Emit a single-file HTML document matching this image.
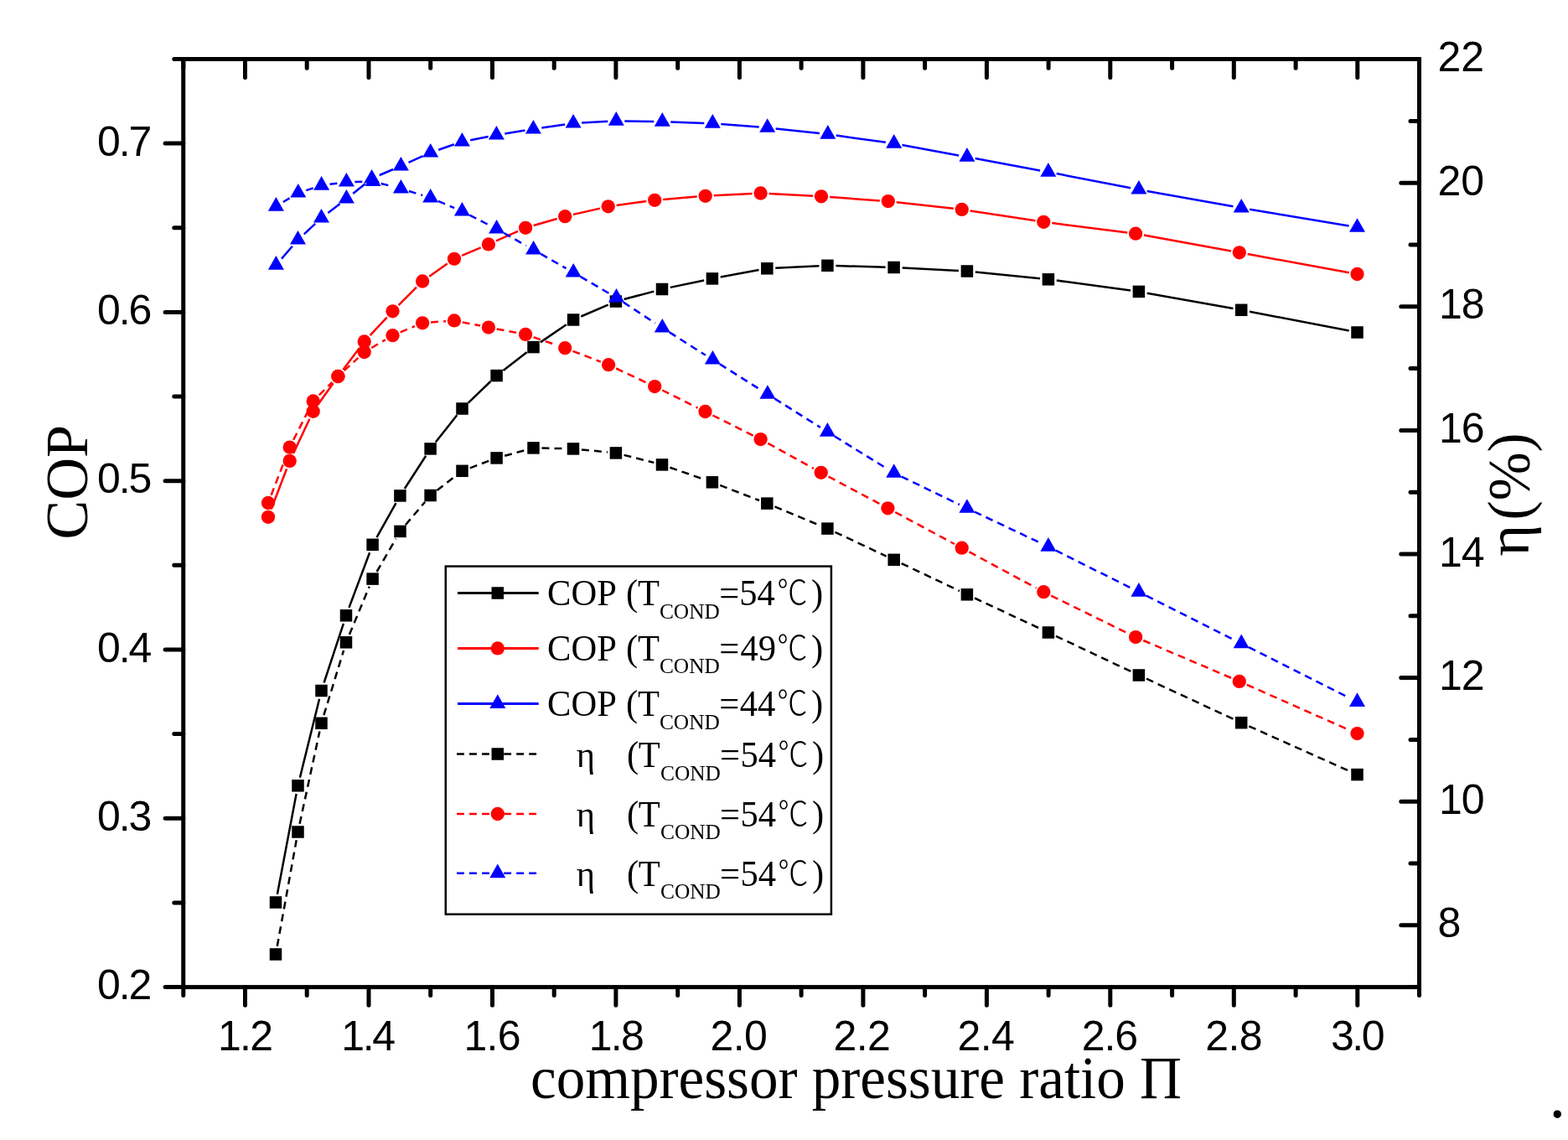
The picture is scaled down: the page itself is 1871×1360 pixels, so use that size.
<!DOCTYPE html><html><head><meta charset="utf-8">
<style>html,body{margin:0;padding:0;background:#fff;overflow:hidden}svg{display:block}.ax{font-family:"Liberation Sans",sans-serif;font-size:50px;fill:#000}.sf{font-family:"Liberation Serif",serif;fill:#000}.cj{font-family:"Liberation Sans","Noto Sans CJK SC",sans-serif;font-weight:300;fill:#000}</style></head><body>
<svg width="1871" height="1360" viewBox="0 0 1871 1360">
<rect x="0" y="0" width="1871" height="1360" fill="#fff"/>
<path d="M330.9,1066.7L353.6,947.1M357.9,927.6L381.1,833.7M386.6,814.5L409.9,743.8M416.5,724.9L441.1,659.2M449.5,641.1L472.5,600.1M482.8,583.0L508.2,543.8M519.8,527.6L545.3,495.3M558.7,480.6L585.4,455.0M600.5,442.0L628.6,420.2M644.8,408.4L675.8,387.2M693.3,377.5L725.7,363.6M744.6,357.0L780.3,347.6M799.8,342.9L840.1,334.5M859.7,330.6L905.5,322.1M925.3,319.8L977.4,317.3M997.4,317.1L1056.6,318.7M1076.6,319.5L1143.9,323.0M1163.8,324.5L1241.0,332.3M1260.8,334.6L1349.0,346.6M1368.7,349.7L1471.4,368.0M1491.0,371.7L1609.7,394.6" fill="none" stroke="#000" stroke-width="2.5"/>
<path d="M330.8,1128.7L353.7,1002.3M357.6,982.7L381.4,872.6M386.4,853.2L410.1,775.9M416.9,757.1L440.7,699.8M449.6,682.0L472.5,642.5M483.9,626.2L507.2,598.7M521.5,584.9L543.6,567.9M560.9,558.3L583.2,549.9M602.2,543.8L626.9,537.0M646.5,534.6L674.0,535.2M694.0,536.4L724.9,539.4M744.6,542.9L780.3,551.9M799.4,557.7L840.5,572.0M859.2,578.9L906.0,597.0M924.5,604.4L978.2,626.8M996.5,634.8L1057.6,663.6M1075.7,672.1L1144.9,705.0M1163.0,713.5L1241.8,750.3M1259.9,758.8L1349.9,801.2M1368.0,809.7L1472.1,858.0M1490.3,866.3L1610.4,920.0" fill="none" stroke="#000" stroke-width="2.5" stroke-dasharray="8.9,6.1"/>
<path d="M323.6,607.5L342.1,559.2M350.0,540.9L369.4,499.8M379.5,482.6L397.6,457.2M409.4,441.0L428.7,415.4M441.5,400.1L461.7,378.6M475.6,364.2L497.0,342.6M512.3,329.7L533.8,314.6M551.2,304.9L573.7,295.3M592.0,287.3L618.0,275.9M636.7,269.0L664.6,261.0M683.9,255.9L716.0,248.6M735.6,245.0L771.3,240.1M791.2,238.0L831.7,234.6M851.7,233.3L897.6,231.0M917.6,231.0L970.0,233.8M990.0,235.0L1049.8,239.4M1069.7,241.2L1137.8,248.8M1157.6,251.4L1235.4,263.3M1255.2,266.1L1345.2,277.4M1364.9,280.5L1469.0,299.5M1488.6,303.1L1609.7,325.2" fill="none" stroke="#f00" stroke-width="2.5"/>
<path d="M323.6,590.7L342.1,542.9M350.2,524.7L369.2,487.3M380.8,471.4L396.3,456.0M410.7,442.2L427.4,426.9M443.3,415.0L459.9,405.3M477.7,396.3L494.9,389.2M514.1,384.5L532.0,383.2M551.8,384.4L573.1,388.6M592.7,392.4L617.3,397.1M636.6,402.2L664.7,411.9M683.5,418.8L716.8,431.6M735.2,439.5L772.1,456.8M790.2,465.5L832.5,486.6M850.4,495.5L898.7,519.6M916.4,528.9L970.9,559.0M988.5,568.5L1050.6,601.6M1068.2,611.0L1138.9,649.0M1156.5,658.4L1236.5,701.5M1254.3,710.6L1346.1,755.7M1364.3,764.0L1469.6,809.0M1487.9,816.9L1610.4,871.1" fill="none" stroke="#f00" stroke-width="2.5" stroke-dasharray="8.9,6.1"/>
<path d="M336.0,308.6L348.9,293.7M362.8,279.3L376.2,266.9M391.4,254.0L405.5,243.2M421.2,230.9L435.8,219.2M452.8,209.0L469.2,202.0M487.5,193.9L504.6,186.1M523.2,178.8L541.9,172.3M561.2,167.2L582.6,162.9M602.3,159.4L626.5,155.6M646.3,152.6L674.2,148.5M694.1,146.5L725.3,144.8M745.3,144.4L780.3,145.0M800.3,145.5L840.3,146.9M860.3,148.0L905.7,151.5M925.6,153.4L977.9,159.1M997.7,161.6L1056.8,169.8M1076.5,173.0L1144.1,185.4M1163.7,189.0L1241.1,203.4M1260.7,207.1L1349.1,224.2M1368.7,227.9L1471.4,246.2M1491.1,249.7L1609.6,269.6" fill="none" stroke="#00f" stroke-width="2.5"/>
<path d="M337.9,241.0L347.3,235.3M365.3,227.1L374.1,224.2M393.5,219.8L403.5,218.5M423.4,216.9L435.0,216.7M454.7,219.0L468.7,222.5M487.9,228.0L504.2,233.0M522.9,239.9L542.2,248.2M560.3,256.6L583.7,268.6M601.3,278.0L627.9,293.1M645.3,302.9L675.5,320.2M692.8,330.1L726.9,350.1M743.9,360.6L781.9,385.6M798.8,396.4L841.9,423.8M858.9,434.4L907.4,465.0M924.4,475.6L978.9,509.9M995.9,520.5L1058.2,559.0M1075.7,568.6L1144.9,602.0M1162.9,610.6L1241.9,647.9M1259.8,656.7L1350.0,701.7M1367.8,710.7L1472.3,763.2M1490.1,772.2L1610.6,832.9" fill="none" stroke="#00f" stroke-width="2.5" stroke-dasharray="8.9,6.1"/>
<g><rect x="321.75" y="1069.25" width="14.5" height="14.5" fill="#000"/><rect x="348.25" y="930.05" width="14.5" height="14.5" fill="#000"/><rect x="376.25" y="816.75" width="14.5" height="14.5" fill="#000"/><rect x="405.75" y="727.05" width="14.5" height="14.5" fill="#000"/><rect x="437.35" y="642.55" width="14.5" height="14.5" fill="#000"/><rect x="470.15" y="584.15" width="14.5" height="14.5" fill="#000"/><rect x="506.35" y="528.15" width="14.5" height="14.5" fill="#000"/><rect x="544.25" y="480.25" width="14.5" height="14.5" fill="#000"/><rect x="585.35" y="440.85" width="14.5" height="14.5" fill="#000"/><rect x="629.25" y="406.85" width="14.5" height="14.5" fill="#000"/><rect x="676.85" y="374.25" width="14.5" height="14.5" fill="#000"/><rect x="727.65" y="352.35" width="14.5" height="14.5" fill="#000"/><rect x="782.75" y="337.75" width="14.5" height="14.5" fill="#000"/><rect x="842.65" y="325.15" width="14.5" height="14.5" fill="#000"/><rect x="908.05" y="313.05" width="14.5" height="14.5" fill="#000"/><rect x="980.15" y="309.55" width="14.5" height="14.5" fill="#000"/><rect x="1059.35" y="311.75" width="14.5" height="14.5" fill="#000"/><rect x="1146.65" y="316.25" width="14.5" height="14.5" fill="#000"/><rect x="1243.65" y="326.05" width="14.5" height="14.5" fill="#000"/><rect x="1351.65" y="340.65" width="14.5" height="14.5" fill="#000"/><rect x="1473.95" y="362.55" width="14.5" height="14.5" fill="#000"/><rect x="1612.25" y="389.25" width="14.5" height="14.5" fill="#000"/></g>
<g><rect x="321.75" y="1131.25" width="14.5" height="14.5" fill="#000"/><rect x="348.25" y="985.25" width="14.5" height="14.5" fill="#000"/><rect x="376.25" y="855.55" width="14.5" height="14.5" fill="#000"/><rect x="405.75" y="759.05" width="14.5" height="14.5" fill="#000"/><rect x="437.35" y="683.35" width="14.5" height="14.5" fill="#000"/><rect x="470.25" y="626.65" width="14.5" height="14.5" fill="#000"/><rect x="506.35" y="583.75" width="14.5" height="14.5" fill="#000"/><rect x="544.25" y="554.55" width="14.5" height="14.5" fill="#000"/><rect x="585.35" y="539.15" width="14.5" height="14.5" fill="#000"/><rect x="629.25" y="527.15" width="14.5" height="14.5" fill="#000"/><rect x="676.75" y="528.15" width="14.5" height="14.5" fill="#000"/><rect x="727.65" y="533.15" width="14.5" height="14.5" fill="#000"/><rect x="782.75" y="547.15" width="14.5" height="14.5" fill="#000"/><rect x="842.65" y="568.05" width="14.5" height="14.5" fill="#000"/><rect x="908.05" y="593.35" width="14.5" height="14.5" fill="#000"/><rect x="980.15" y="623.35" width="14.5" height="14.5" fill="#000"/><rect x="1059.45" y="660.55" width="14.5" height="14.5" fill="#000"/><rect x="1146.65" y="702.05" width="14.5" height="14.5" fill="#000"/><rect x="1243.65" y="747.25" width="14.5" height="14.5" fill="#000"/><rect x="1351.65" y="798.25" width="14.5" height="14.5" fill="#000"/><rect x="1473.95" y="854.95" width="14.5" height="14.5" fill="#000"/><rect x="1612.25" y="916.85" width="14.5" height="14.5" fill="#000"/></g>
<g><circle cx="320.0" cy="616.8" r="8.15" fill="#f00"/><circle cx="345.7" cy="549.9" r="8.15" fill="#f00"/><circle cx="373.7" cy="490.8" r="8.15" fill="#f00"/><circle cx="403.4" cy="449.0" r="8.15" fill="#f00"/><circle cx="434.7" cy="407.4" r="8.15" fill="#f00"/><circle cx="468.5" cy="371.3" r="8.15" fill="#f00"/><circle cx="504.1" cy="335.5" r="8.15" fill="#f00"/><circle cx="542.0" cy="308.8" r="8.15" fill="#f00"/><circle cx="582.9" cy="291.4" r="8.15" fill="#f00"/><circle cx="627.1" cy="271.8" r="8.15" fill="#f00"/><circle cx="674.2" cy="258.2" r="8.15" fill="#f00"/><circle cx="725.7" cy="246.3" r="8.15" fill="#f00"/><circle cx="781.2" cy="238.8" r="8.15" fill="#f00"/><circle cx="841.7" cy="233.8" r="8.15" fill="#f00"/><circle cx="907.6" cy="230.5" r="8.15" fill="#f00"/><circle cx="980.0" cy="234.3" r="8.15" fill="#f00"/><circle cx="1059.8" cy="240.1" r="8.15" fill="#f00"/><circle cx="1147.7" cy="249.9" r="8.15" fill="#f00"/><circle cx="1245.3" cy="264.8" r="8.15" fill="#f00"/><circle cx="1355.1" cy="278.7" r="8.15" fill="#f00"/><circle cx="1478.8" cy="301.3" r="8.15" fill="#f00"/><circle cx="1619.5" cy="327.0" r="8.15" fill="#f00"/></g>
<g><circle cx="320.0" cy="600.0" r="8.15" fill="#f00"/><circle cx="345.7" cy="533.6" r="8.15" fill="#f00"/><circle cx="373.7" cy="478.4" r="8.15" fill="#f00"/><circle cx="403.4" cy="449.0" r="8.15" fill="#f00"/><circle cx="434.7" cy="420.1" r="8.15" fill="#f00"/><circle cx="468.5" cy="400.2" r="8.15" fill="#f00"/><circle cx="504.1" cy="385.3" r="8.15" fill="#f00"/><circle cx="542.0" cy="382.4" r="8.15" fill="#f00"/><circle cx="582.9" cy="390.6" r="8.15" fill="#f00"/><circle cx="627.1" cy="398.9" r="8.15" fill="#f00"/><circle cx="674.2" cy="415.2" r="8.15" fill="#f00"/><circle cx="726.1" cy="435.2" r="8.15" fill="#f00"/><circle cx="781.2" cy="461.1" r="8.15" fill="#f00"/><circle cx="841.5" cy="491.0" r="8.15" fill="#f00"/><circle cx="907.6" cy="524.1" r="8.15" fill="#f00"/><circle cx="979.7" cy="563.8" r="8.15" fill="#f00"/><circle cx="1059.4" cy="606.3" r="8.15" fill="#f00"/><circle cx="1147.7" cy="653.7" r="8.15" fill="#f00"/><circle cx="1245.3" cy="706.2" r="8.15" fill="#f00"/><circle cx="1355.1" cy="760.1" r="8.15" fill="#f00"/><circle cx="1478.8" cy="812.9" r="8.15" fill="#f00"/><circle cx="1619.5" cy="875.1" r="8.15" fill="#f00"/></g>
<g><path d="M319.9,321.7L329.4,305.1L338.9,321.7Z" fill="#00f"/><path d="M346.0,291.6L355.5,275.0L365.0,291.6Z" fill="#00f"/><path d="M374.0,265.6L383.5,249.0L393.0,265.6Z" fill="#00f"/><path d="M403.9,242.6L413.4,226.0L422.9,242.6Z" fill="#00f"/><path d="M434.1,218.5L443.6,201.9L453.1,218.5Z" fill="#00f"/><path d="M468.9,203.5L478.4,186.9L487.9,203.5Z" fill="#00f"/><path d="M504.2,187.5L513.7,170.9L523.2,187.5Z" fill="#00f"/><path d="M541.9,174.6L551.4,158.0L560.9,174.6Z" fill="#00f"/><path d="M582.9,166.5L592.4,149.9L601.9,166.5Z" fill="#00f"/><path d="M626.9,159.5L636.4,142.9L645.9,159.5Z" fill="#00f"/><path d="M674.6,152.6L684.1,136.0L693.6,152.6Z" fill="#00f"/><path d="M725.8,149.7L735.3,133.1L744.8,149.7Z" fill="#00f"/><path d="M780.8,150.7L790.3,134.1L799.8,150.7Z" fill="#00f"/><path d="M840.8,152.7L850.3,136.1L859.8,152.7Z" fill="#00f"/><path d="M906.2,157.8L915.7,141.2L925.2,157.8Z" fill="#00f"/><path d="M978.3,165.7L987.8,149.1L997.3,165.7Z" fill="#00f"/><path d="M1057.2,176.7L1066.7,160.1L1076.2,176.7Z" fill="#00f"/><path d="M1144.4,192.7L1153.9,176.1L1163.4,192.7Z" fill="#00f"/><path d="M1241.4,210.7L1250.9,194.1L1260.4,210.7Z" fill="#00f"/><path d="M1349.4,231.6L1358.9,215.0L1368.4,231.6Z" fill="#00f"/><path d="M1471.7,253.5L1481.2,236.9L1490.7,253.5Z" fill="#00f"/><path d="M1610.0,276.8L1619.5,260.2L1629.0,276.8Z" fill="#00f"/></g>
<g><path d="M319.9,251.7L329.4,235.1L338.9,251.7Z" fill="#00f"/><path d="M346.3,235.6L355.8,219.0L365.3,235.6Z" fill="#00f"/><path d="M374.1,226.7L383.6,210.1L393.1,226.7Z" fill="#00f"/><path d="M403.9,222.6L413.4,206.0L422.9,222.6Z" fill="#00f"/><path d="M435.5,222.0L445.0,205.4L454.5,222.0Z" fill="#00f"/><path d="M468.9,230.5L478.4,213.9L487.9,230.5Z" fill="#00f"/><path d="M504.2,241.5L513.7,224.9L523.2,241.5Z" fill="#00f"/><path d="M541.9,257.6L551.4,241.0L560.9,257.6Z" fill="#00f"/><path d="M583.1,278.6L592.6,262.0L602.1,278.6Z" fill="#00f"/><path d="M627.1,303.5L636.6,286.9L646.1,303.5Z" fill="#00f"/><path d="M674.7,330.6L684.2,314.0L693.7,330.6Z" fill="#00f"/><path d="M726.0,360.6L735.5,344.0L745.0,360.6Z" fill="#00f"/><path d="M780.8,396.6L790.3,380.0L799.8,396.6Z" fill="#00f"/><path d="M840.9,434.6L850.4,418.0L859.9,434.6Z" fill="#00f"/><path d="M906.4,475.8L915.9,459.2L925.4,475.8Z" fill="#00f"/><path d="M977.9,520.7L987.4,504.1L996.9,520.7Z" fill="#00f"/><path d="M1057.2,569.8L1066.7,553.2L1076.2,569.8Z" fill="#00f"/><path d="M1144.4,611.8L1153.9,595.2L1163.4,611.8Z" fill="#00f"/><path d="M1241.4,657.7L1250.9,641.1L1260.4,657.7Z" fill="#00f"/><path d="M1349.4,711.7L1358.9,695.1L1368.4,711.7Z" fill="#00f"/><path d="M1471.7,773.2L1481.2,756.6L1490.7,773.2Z" fill="#00f"/><path d="M1610.0,842.9L1619.5,826.3L1629.0,842.9Z" fill="#00f"/></g>
<rect x="218.75" y="70.5" width="1474.75" height="1107.10" fill="none" stroke="#000" stroke-width="5"/>
<path d="M292.5,1177.6L292.5,1199.3M292.5,70.5L292.5,92.5M440.0,1177.6L440.0,1199.3M440.0,70.5L440.0,92.5M587.5,1177.6L587.5,1199.3M587.5,70.5L587.5,92.5M734.9,1177.6L734.9,1199.3M734.9,70.5L734.9,92.5M882.4,1177.6L882.4,1199.3M882.4,70.5L882.4,92.5M1029.9,1177.6L1029.9,1199.3M1029.9,70.5L1029.9,92.5M1177.4,1177.6L1177.4,1199.3M1177.4,70.5L1177.4,92.5M1324.8,1177.6L1324.8,1199.3M1324.8,70.5L1324.8,92.5M1472.3,1177.6L1472.3,1199.3M1472.3,70.5L1472.3,92.5M1619.8,1177.6L1619.8,1199.3M1619.8,70.5L1619.8,92.5M218.8,1177.6L218.8,1187.6M218.8,70.5L218.8,81.2M366.2,1177.6L366.2,1187.6M366.2,70.5L366.2,81.2M513.7,1177.6L513.7,1187.6M513.7,70.5L513.7,81.2M661.2,1177.6L661.2,1187.6M661.2,70.5L661.2,81.2M808.7,1177.6L808.7,1187.6M808.7,70.5L808.7,81.2M956.1,1177.6L956.1,1187.6M956.1,70.5L956.1,81.2M1103.6,1177.6L1103.6,1187.6M1103.6,70.5L1103.6,81.2M1251.1,1177.6L1251.1,1187.6M1251.1,70.5L1251.1,81.2M1398.6,1177.6L1398.6,1187.6M1398.6,70.5L1398.6,81.2M1546.1,1177.6L1546.1,1187.6M1546.1,70.5L1546.1,81.2M1693.5,1177.6L1693.5,1187.6M1693.5,70.5L1693.5,81.2M218.8,1177.6L197.1,1177.6M218.8,976.3L197.1,976.3M218.8,775.0L197.1,775.0M218.8,573.7L197.1,573.7M218.8,372.4L197.1,372.4M218.8,171.1L197.1,171.1M218.8,1076.9L207.8,1076.9M218.8,875.6L207.8,875.6M218.8,674.3L207.8,674.3M218.8,473.0L207.8,473.0M218.8,271.7L207.8,271.7M218.8,70.4L207.8,70.4M1693.5,1103.8L1671.8,1103.8M1693.5,956.2L1671.8,956.2M1693.5,808.6L1671.8,808.6M1693.5,661.0L1671.8,661.0M1693.5,513.4L1671.8,513.4M1693.5,365.8L1671.8,365.8M1693.5,218.2L1671.8,218.2M1693.5,70.6L1671.8,70.6M1693.5,1177.6L1683.0,1177.6M1693.5,1030.0L1683.0,1030.0M1693.5,882.4L1683.0,882.4M1693.5,734.8L1683.0,734.8M1693.5,587.2L1683.0,587.2M1693.5,439.6L1683.0,439.6M1693.5,292.0L1683.0,292.0M1693.5,144.4L1683.0,144.4" stroke="#000" stroke-width="5" stroke-linecap="round" fill="none"/>
<text class="ax" x="115.9" y="1192.1">0<tspan dx="-2">.</tspan><tspan dx="-2">2</tspan></text>
<text class="ax" x="115.9" y="990.8">0<tspan dx="-2">.</tspan><tspan dx="-2">3</tspan></text>
<text class="ax" x="115.9" y="789.5">0<tspan dx="-2">.</tspan><tspan dx="-2">4</tspan></text>
<text class="ax" x="115.9" y="588.2">0<tspan dx="-2">.</tspan><tspan dx="-2">5</tspan></text>
<text class="ax" x="115.9" y="386.9">0<tspan dx="-2">.</tspan><tspan dx="-2">6</tspan></text>
<text class="ax" x="115.9" y="185.6">0<tspan dx="-2">.</tspan><tspan dx="-2">7</tspan></text>
<text class="ax" x="260.1" y="1253.2">1<tspan dx="-1.8">.</tspan><tspan dx="-1.8">2</tspan></text>
<text class="ax" x="407.2" y="1253.2">1<tspan dx="-2.3">.</tspan><tspan dx="-2.3">4</tspan></text>
<text class="ax" x="553.4" y="1253.2">1<tspan dx="-0.7">.</tspan><tspan dx="-0.7">6</tspan></text>
<text class="ax" x="702.8" y="1253.2">1<tspan dx="-1.8">.</tspan><tspan dx="-1.8">8</tspan></text>
<text class="ax" x="847.6" y="1253.2">2<tspan dx="-0.6">.</tspan><tspan dx="-0.6">0</tspan></text>
<text class="ax" x="994.6" y="1253.2">2<tspan dx="-0.65">.</tspan><tspan dx="-0.65">2</tspan></text>
<text class="ax" x="1142.6" y="1253.2">2<tspan dx="-0.6">.</tspan><tspan dx="-0.6">4</tspan></text>
<text class="ax" x="1290.8" y="1253.2">2<tspan dx="-1.1">.</tspan><tspan dx="-1.1">6</tspan></text>
<text class="ax" x="1438.2" y="1253.2">2<tspan dx="-0.6">.</tspan><tspan dx="-0.6">8</tspan></text>
<text class="ax" x="1588.0" y="1253.2">3<tspan dx="-2.45">.</tspan><tspan dx="-2.45">0</tspan></text>
<text class="ax" x="1715.5" y="1118.3">8</text>
<text class="ax" x="1717" y="970.7">1<tspan dx="-1">0</tspan></text>
<text class="ax" x="1717" y="823.1">1<tspan dx="-1">2</tspan></text>
<text class="ax" x="1717" y="675.5">1<tspan dx="-1">4</tspan></text>
<text class="ax" x="1717" y="527.9">1<tspan dx="-1">6</tspan></text>
<text class="ax" x="1717" y="380.3">1<tspan dx="-1">8</tspan></text>
<text class="ax" x="1715.5" y="232.7">20</text>
<text class="ax" x="1715.5" y="85.1">22</text>
<text class="sf" font-size="72" transform="translate(103.5,575.3) rotate(-90) scale(0.978,1)" text-anchor="middle">COP</text>
<text class="sf" font-size="72" transform="translate(1824,663.5) rotate(-90)">η</text>
<text class="sf" font-size="72" transform="translate(1824.5,620.5) rotate(-90) scale(0.966,1)">(%)</text>
<text class="sf" font-size="72" x="633" y="1309.8" textLength="777" lengthAdjust="spacingAndGlyphs">compressor pressure ratio Π</text>
<text class="sf" font-size="80" x="1848.3" y="1333">.</text>
<rect x="531.8" y="675.6" width="460.1" height="415.1" fill="#fff" stroke="#000" stroke-width="2.5"/>
<path d="M546,707.5L642.7,707.5" stroke="#000" stroke-width="3" fill="none"/>
<rect x="586.55" y="700.25" width="14.5" height="14.5" fill="#000"/>
<text class="sf" font-size="45" transform="scale(0.945,1)"><tspan x="691.1" y="722.0">COP </tspan><tspan x="790.5">(</tspan><tspan x="805.3">T</tspan><tspan x="832.7" y="737.6" font-size="25" textLength="76.1" lengthAdjust="spacingAndGlyphs">COND</tspan><tspan x="908.2" y="722.0">=</tspan><tspan x="933.5">54</tspan><tspan class="cj" x="981.2" y="721.2" font-size="40" textLength="38.4" lengthAdjust="spacingAndGlyphs">℃</tspan><tspan x="1024.4" y="722.0">)</tspan></text>
<path d="M546,773.4L642.7,773.4" stroke="#f00" stroke-width="3" fill="none"/>
<circle cx="593.8" cy="773.4" r="8.15" fill="#f00"/>
<text class="sf" font-size="45" transform="scale(0.945,1)"><tspan x="691.1" y="787.8">COP </tspan><tspan x="790.5">(</tspan><tspan x="805.3">T</tspan><tspan x="832.7" y="803.4" font-size="25" textLength="76.1" lengthAdjust="spacingAndGlyphs">COND</tspan><tspan x="908.2" y="787.8">=</tspan><tspan x="934.8">49</tspan><tspan class="cj" x="981.2" y="787.0" font-size="40" textLength="38.4" lengthAdjust="spacingAndGlyphs">℃</tspan><tspan x="1024.4" y="787.8">)</tspan></text>
<path d="M546,839.4L642.7,839.4" stroke="#00f" stroke-width="3" fill="none"/>
<path d="M584.3,844.9L593.8,828.3L603.3,844.9Z" fill="#00f"/>
<text class="sf" font-size="45" transform="scale(0.945,1)"><tspan x="691.1" y="854.0">COP </tspan><tspan x="790.5">(</tspan><tspan x="805.3">T</tspan><tspan x="832.7" y="869.6" font-size="25" textLength="76.1" lengthAdjust="spacingAndGlyphs">COND</tspan><tspan x="908.2" y="854.0">=</tspan><tspan x="934.2">44</tspan><tspan class="cj" x="981.2" y="853.2" font-size="40" textLength="38.4" lengthAdjust="spacingAndGlyphs">℃</tspan><tspan x="1024.4" y="854.0">)</tspan></text>
<path d="M545,899.5L584,899.5M601.2,899.5L640.1,899.5" stroke="#000" stroke-width="2.5" stroke-dasharray="8.9,6.1" fill="none"/>
<rect x="586.55" y="892.25" width="14.5" height="14.5" fill="#000"/>
<text class="sf" font-size="45" transform="scale(0.945,1)"><tspan x="727.9" y="915.2">η </tspan><tspan x="791.5">(</tspan><tspan x="806.2">T</tspan><tspan x="833.9" y="930.8" font-size="25" textLength="76.1" lengthAdjust="spacingAndGlyphs">COND</tspan><tspan x="909.1" y="915.2">=</tspan><tspan x="934.8">54</tspan><tspan class="cj" x="982.2" y="914.4" font-size="40" textLength="38.4" lengthAdjust="spacingAndGlyphs">℃</tspan><tspan x="1025.5" y="915.2">)</tspan></text>
<path d="M545,971.0L584,971.0M601.2,971.0L640.1,971.0" stroke="#f00" stroke-width="2.5" stroke-dasharray="8.9,6.1" fill="none"/>
<circle cx="593.8" cy="971.0" r="8.15" fill="#f00"/>
<text class="sf" font-size="45" transform="scale(0.945,1)"><tspan x="727.9" y="985.8">η </tspan><tspan x="791.5">(</tspan><tspan x="806.2">T</tspan><tspan x="833.9" y="1001.4" font-size="25" textLength="76.1" lengthAdjust="spacingAndGlyphs">COND</tspan><tspan x="909.1" y="985.8">=</tspan><tspan x="934.8">54</tspan><tspan class="cj" x="982.2" y="985.0" font-size="40" textLength="38.4" lengthAdjust="spacingAndGlyphs">℃</tspan><tspan x="1025.5" y="985.8">)</tspan></text>
<path d="M545,1041.7L584,1041.7M601.2,1041.7L640.1,1041.7" stroke="#00f" stroke-width="2.5" stroke-dasharray="8.9,6.1" fill="none"/>
<path d="M584.3,1047.2L593.8,1030.6L603.3,1047.2Z" fill="#00f"/>
<text class="sf" font-size="45" transform="scale(0.945,1)"><tspan x="727.9" y="1056.8">η </tspan><tspan x="791.5">(</tspan><tspan x="806.2">T</tspan><tspan x="833.9" y="1072.4" font-size="25" textLength="76.1" lengthAdjust="spacingAndGlyphs">COND</tspan><tspan x="909.1" y="1056.8">=</tspan><tspan x="934.8">54</tspan><tspan class="cj" x="982.2" y="1056.0" font-size="40" textLength="38.4" lengthAdjust="spacingAndGlyphs">℃</tspan><tspan x="1025.5" y="1056.8">)</tspan></text>
</svg></body></html>
